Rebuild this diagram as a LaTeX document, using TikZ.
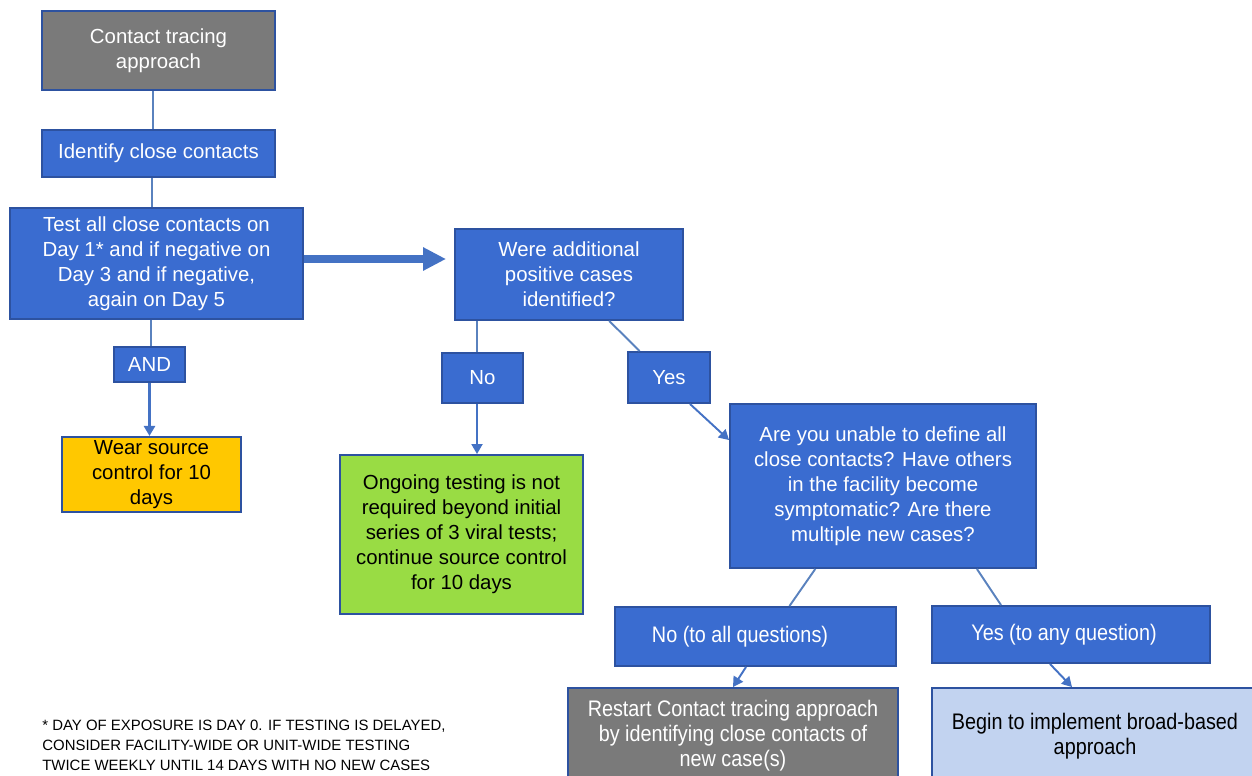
\documentclass[tikz,border=0pt]{standalone}
\usepackage{fontspec}
\setmainfont{Liberation Sans}
\newfontfamily\narrowsf[FakeStretch=0.88]{Liberation Sans}
\usetikzlibrary{arrows.meta,calc}
\definecolor{boxblue}{HTML}{3A6CD0}
\definecolor{boxline}{HTML}{2D52A0}
\definecolor{boxgray}{HTML}{7A7A7A}
\definecolor{boxyellow}{HTML}{FFC800}
\definecolor{boxgreen}{HTML}{99DC44}
\definecolor{boxpale}{HTML}{C2D3F0}
\definecolor{linkblue}{HTML}{5A82BE}
\definecolor{arrowblue}{HTML}{4472C4}
\tikzset{
  box/.style={draw=boxline,line width=1.1pt,inner sep=2pt,align=center,
    font=\fontsize{11.6}{14.2}\selectfont},
  bluebox/.style={box,fill=boxblue,text=white},
  graybox/.style={box,fill=boxgray,text=white},
  yellowbox/.style={box,fill=boxyellow,text=black},
  greenbox/.style={box,fill=boxgreen,text=black},
  palebox/.style={box,fill=boxpale,text=black},
  narrowtext/.style={font=\narrowsf\fontsize{12.8}{14.2}\selectfont},
  link/.style={draw=linkblue,line width=1.1pt},
  arr/.style={draw=arrowblue,line width=1.1pt,-{Triangle[length=2mm,width=2.2mm]}},
  bigarr/.style={draw=arrowblue,line width=4.3pt,-{Triangle[length=4.6mm,width=4.4mm]}}
}
\begin{document}
\begin{tikzpicture}
\useasboundingbox (0,0) rectangle (25.04,-15.5);
\node[graybox,minimum width=4.66cm,minimum height=1.58cm] (ctrace) at (3.17,-1.01) {Contact tracing\\approach};
\node[bluebox,minimum width=4.66cm,minimum height=0.94cm] (identify) at (3.17,-3.07) {Identify close contacts};
\node[bluebox,minimum width=5.86cm,minimum height=2.22cm] (testall) at (3.13,-5.27) {Test all close contacts on\\Day 1* and if negative on\\Day 3 and if negative,\\again on Day 5};
\node[bluebox,minimum width=1.42cm,minimum height=0.70cm] (and) at (2.99,-7.29) {AND};
\node[yellowbox,minimum width=3.58cm,minimum height=1.46cm] (wear) at (3.03,-9.49) {Wear source\\control for 10\\days};
\node[bluebox,minimum width=4.56cm,minimum height=1.82cm] (were) at (11.38,-5.49) {Were additional\\positive cases\\identified?};
\node[bluebox,minimum width=1.62cm,minimum height=1.00cm] (no) at (9.65,-7.56) {No};
\node[bluebox,minimum width=1.64cm,minimum height=1.02cm] (yes) at (13.38,-7.55) {Yes};
\node[greenbox,minimum width=4.86cm,minimum height=3.18cm] (ongoing) at (9.23,-10.69) {Ongoing testing is not\\required beyond initial\\series of 3 viral tests;\\continue source control\\for 10 days};
\node[bluebox,minimum width=6.12cm,minimum height=3.28cm] (unable) at (17.66,-9.72) {Are you unable to define all\\close contacts? Have others\\in the facility become\\symptomatic? Are there\\multiple new cases?};
\node[bluebox,narrowtext,minimum width=5.62cm,minimum height=1.18cm] (noall) at (15.11,-12.73) {\makebox[0pt]{\hspace*{-0.62cm}No (to all questions)}};
\node[bluebox,narrowtext,minimum width=5.56cm,minimum height=1.14cm] (yesany) at (21.42,-12.69) {\makebox[0pt]{\hspace*{-0.28cm}Yes (to any question)}};
\node[graybox,narrowtext,minimum width=6.60cm,minimum height=1.92cm] (restart) at (14.66,-14.72) {Restart Contact tracing approach\\by identifying close contacts of\\new case(s)};
\node[palebox,narrowtext,minimum width=6.52cm,minimum height=1.92cm] (begin) at (21.90,-14.72) {Begin to implement broad-based\\approach};
\node[anchor=north west,inner sep=0pt,align=left,font=\fontsize{8.5}{11.4}\selectfont] (note) at (0.84,-14.4) {* DAY OF EXPOSURE IS DAY 0. IF TESTING IS DELAYED,\\CONSIDER FACILITY-WIDE OR UNIT-WIDE TESTING\\TWICE WEEKLY UNTIL 14 DAYS WITH NO NEW CASES};
\draw[link] ([xshift=0.07cm]ctrace.south -| and.north) -- ([xshift=0.07cm]identify.north -| and.north);
\draw[link] ([xshift=0.05cm]identify.south -| and.north) -- ([xshift=0.05cm]testall.north -| and.north);
\draw[link] ([xshift=0.03cm]testall.south -| and.north) -- ([xshift=0.03cm]and.north);
\draw[arr,line width=1.6pt] (and.south) -- (and.south |- wear.north);
\draw[bigarr,shorten >=0.16cm] ([yshift=0.09cm]testall.east) -- ([yshift=0.09cm]testall.east -| were.west);
\draw[link] ([xshift=-0.11cm]no.north |- were.south) -- ([xshift=-0.11cm]no.north);
\draw[arr] ([xshift=-0.11cm]no.south) -- ([xshift=-0.11cm]no.south |- ongoing.north);
\draw[link] ($(were.south)!0.35!(were.south east)$) -- ($(yes.north)!0.7!(yes.north west)$);
\draw[arr] ($(yes.south)!0.5!(yes.south east)$) -- ([yshift=-0.74cm]unable.north west);
\draw[link] ($(unable.south)!0.44!(unable.south west)$) -- ($(noall.north)!0.24!(noall.north east)$);
\draw[link] ($(unable.south)!0.61!(unable.south east)$) -- ($(yesany.north)!0.5!(yesany.north west)$);
\draw[arr] ([xshift=-0.19cm]noall.south) -- (restart.north);
\draw[arr] ([xshift=-0.42cm]yesany.south) -- ([xshift=-0.46cm]begin.north);
\end{tikzpicture}
\end{document}
